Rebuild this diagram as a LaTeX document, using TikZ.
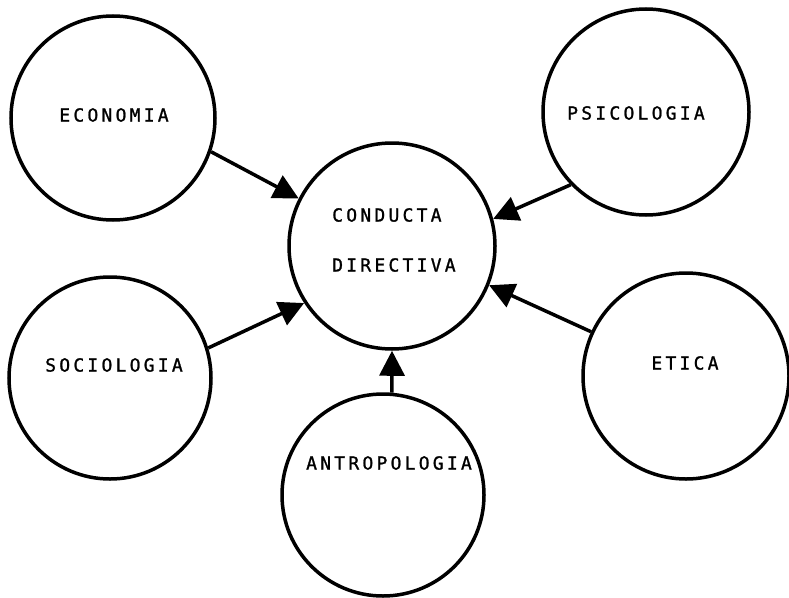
\documentclass[tikz,border=0pt]{standalone}
\usepackage{fontspec}
\newfontfamily\plotfont[LetterSpace=18, FakeBold=1.2]{DejaVu Sans Mono}
\usetikzlibrary{arrows.meta}

\begin{document}
\begin{tikzpicture}[x=1pt, y=-1pt,
    circulo/.style={draw, circle, line width=3.5pt, inner sep=0pt, minimum size=#1},
    etiqueta/.style={inner sep=0pt, font=\plotfont\fontsize{18}{22}\selectfont},
    flecha/.style={line width=3.5pt, -{Triangle[length=25pt, width=25pt]}}]
      \useasboundingbox (0,0) rectangle (789,597);

      % Central circle
      \node[circulo=206pt] (cond) at (392,246) {};
      \node[etiqueta, anchor=west] (cond1) at (332,215) {CONDUCTA};
      \node[etiqueta, anchor=west] (cond2) at (332,265) {DIRECTIVA};

      % Surrounding circles
      \node[circulo=204pt] (econ) at (113,118) {};
      \node[circulo=206pt] (psic) at (646,112) {};
      \node[circulo=202pt] (soci) at (110,378) {};
      \node[circulo=206pt] (etic) at (686,376) {};
      \node[circulo=202pt] (antr) at (383,495) {};

      % Labels
      \node[etiqueta] (econl) at (114,115) {ECONOMIA};
      \node[etiqueta] (psicl) at (636,113) {PSICOLOGIA};
      \node[etiqueta] (socil) at (114,365) {SOCIOLOGIA};
      \node[etiqueta] (eticl) at (685,363) {ETICA};
      \node[etiqueta] (antrl) at (389,463) {ANTROPOLOGIA};

      % Arrows into the centre
      \foreach \src/\a/\b in {econ/-19/153, psic/-136/15, soci/17/213, etic/155/-22, antr/85/-90} {
          \draw[flecha] (\src.\a) -- (cond.\b);
      }
    \end{tikzpicture}
\end{document}
